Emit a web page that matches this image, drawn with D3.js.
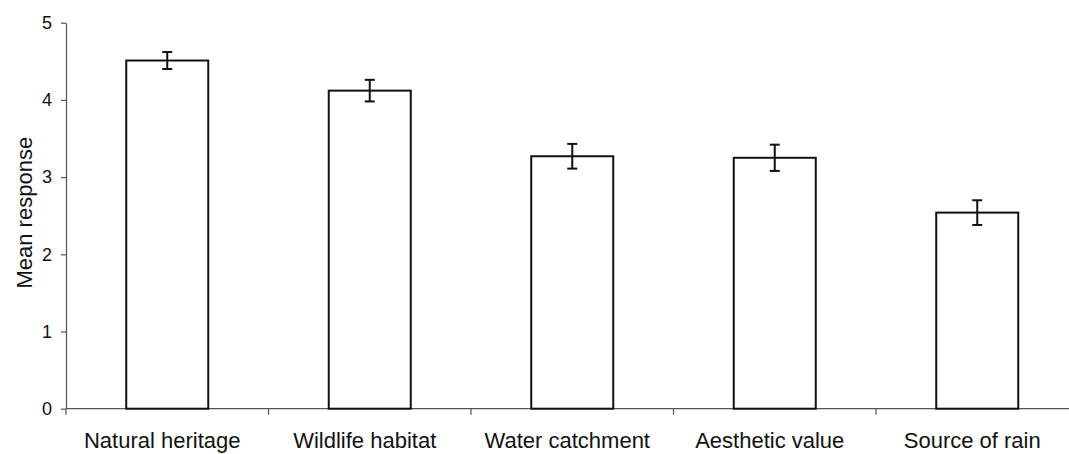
<!DOCTYPE html>
<html>
<head>
<meta charset="utf-8">
<script src="https://cdn.jsdelivr.net/npm/d3@7"></script>
<style>
  html, body { margin: 0; padding: 0; background: #fff; }
  svg { display: block; }
  text { font-family: "Liberation Sans", Arial, Helvetica, sans-serif; fill: #111; }
</style>
</head>
<body>
<svg id="chart" width="1069" height="454"></svg>
<script>
const categories = ["Natural heritage", "Wildlife habitat", "Water catchment", "Aesthetic value", "Source of rain"];
const means = [4.51, 4.12, 3.27, 3.25, 2.54];
const errors = [0.11, 0.14, 0.16, 0.17, 0.16];
const yTicks = [0, 1, 2, 3, 4, 5];
const yLabel = "Mean response";

const W = 1069, H = 454;
const plotLeft = 66, plotRight = 1078.5, plotTop = 22.7, plotBottom = 408.7;

const svg = d3.select("#chart");

const x = d3.scaleBand()
  .domain(categories)
  .range([plotLeft, plotRight])
  .paddingInner(0.595)
  .paddingOuter(0.2975);

const y = d3.scaleLinear().domain([0, 5]).range([plotBottom, plotTop]);

const step = x.step();
const bw = x.bandwidth();

// y axis
const yAxis = svg.append("g")
  .attr("transform", `translate(${plotLeft},0)`)
  .call(d3.axisLeft(y).tickValues(yTicks).tickFormat(d3.format("d")).tickSize(5).tickSizeOuter(0).tickPadding(9));
yAxis.select(".domain").attr("stroke", "#555").attr("stroke-width", 1.2);
yAxis.selectAll(".tick line").attr("stroke", "#555").attr("stroke-width", 1.2);
yAxis.selectAll(".tick text").style("font-size", "18px").attr("fill", "#111")
  .style("font-family", '"Liberation Sans", Arial, sans-serif');

// x axis line
svg.append("line")
  .attr("x1", plotLeft).attr("x2", W)
  .attr("y1", y(0)).attr("y2", y(0))
  .attr("stroke", "#555").attr("stroke-width", 1.2);

// x ticks at category boundaries
const boundaries = categories.map(c => x(c) + bw / 2 - step / 2);
svg.append("g").selectAll("line")
  .data(boundaries)
  .join("line")
  .attr("x1", d => d).attr("x2", d => d)
  .attr("y1", y(0)).attr("y2", y(0) + 6)
  .attr("stroke", "#555").attr("stroke-width", 1.2);

// bars
svg.append("g").selectAll("rect")
  .data(categories)
  .join("rect")
  .attr("x", c => x(c))
  .attr("width", bw)
  .attr("y", (c, i) => y(means[i]))
  .attr("height", (c, i) => y(0) - y(means[i]))
  .attr("fill", "#fff")
  .attr("stroke", "#111")
  .attr("stroke-width", 2);

// error bars
const capW = 10;
const eg = svg.append("g").attr("stroke", "#111").attr("stroke-width", 2);
categories.forEach((c, i) => {
  const cx = x(c) + bw / 2;
  const hi = y(means[i] + errors[i]);
  const lo = y(means[i] - errors[i]);
  eg.append("line").attr("x1", cx).attr("x2", cx).attr("y1", hi).attr("y2", lo);
  eg.append("line").attr("x1", cx - capW / 2).attr("x2", cx + capW / 2).attr("y1", hi).attr("y2", hi);
  eg.append("line").attr("x1", cx - capW / 2).attr("x2", cx + capW / 2).attr("y1", lo).attr("y2", lo);
});

// category labels
svg.append("g").selectAll("text")
  .data(categories)
  .join("text")
  .attr("x", c => x(c) + bw / 2 - 5)
  .attr("y", 448)
  .attr("text-anchor", "middle")
  .style("font-size", "22px")
  .text(c => c);

// y label
svg.append("text")
  .attr("transform", `translate(32,${(plotTop + plotBottom) / 2 - 3}) rotate(-90)`)
  .attr("text-anchor", "middle")
  .style("font-size", "22px")
  .text(yLabel);
</script>
</body>
</html>
